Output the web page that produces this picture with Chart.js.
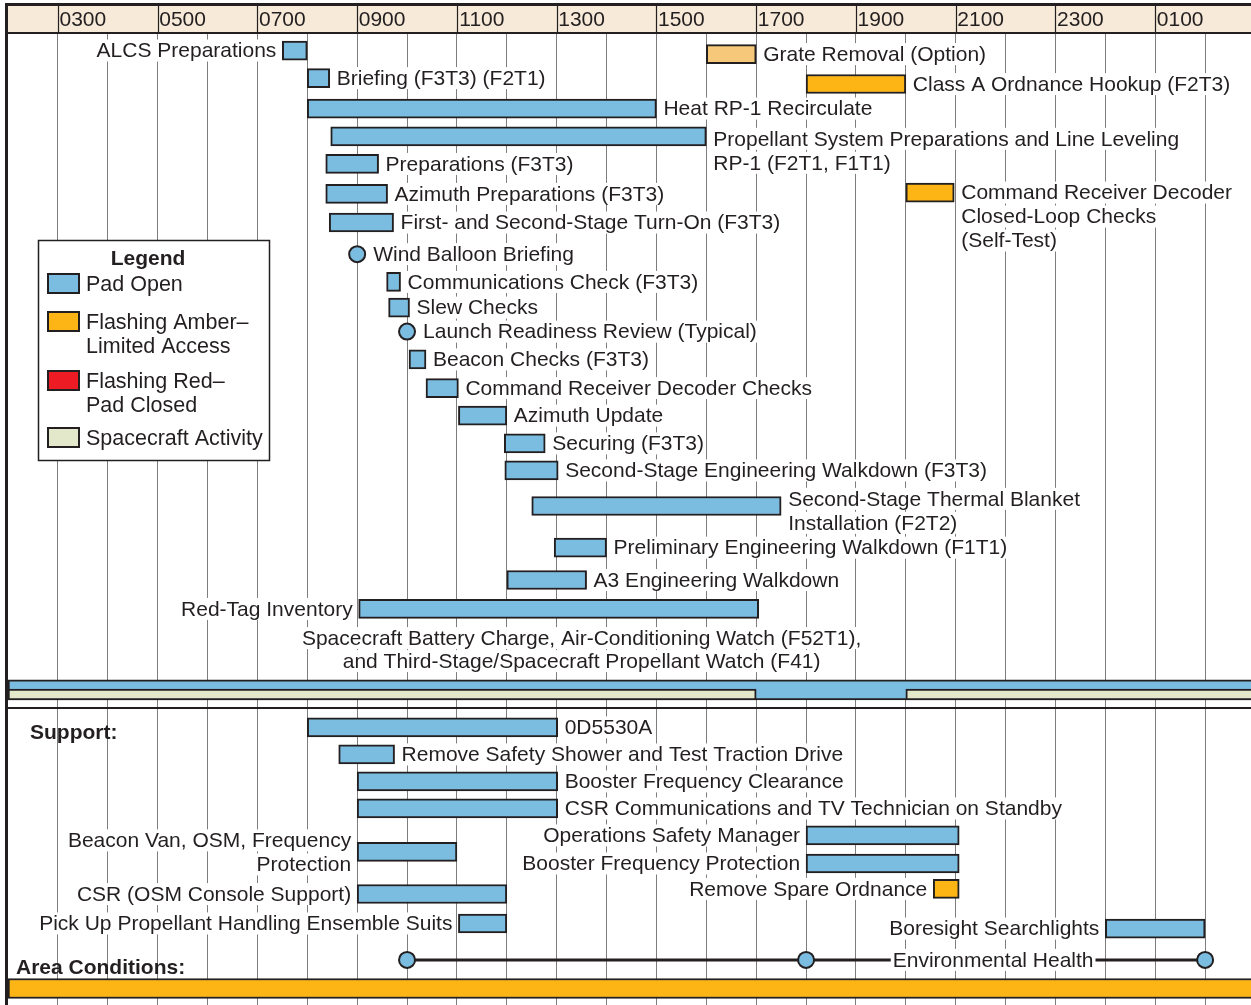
<!DOCTYPE html>
<html><head><meta charset="utf-8">
<script src="https://cdn.jsdelivr.net/npm/chart.js@4/dist/chart.umd.min.js"></script>
<style>html,body{margin:0;padding:0;background:#fff;overflow:hidden}canvas{display:block}</style>
</head><body>
<canvas id="c" width="1251" height="1005"></canvas>
<script>
// ---------- DATA ----------
const tickHours = [3,5,7,9,11,13,15,17,19,21,23,25];
const tickLabels = ['0300','0500','0700','0900','1100','1300','1500','1700','1900','2100','2300','0100'];
const gridHours = [3,4,5,6,7,8,9,10,11,12,13,14,15,16,17,18,19,20,21,22,23,24,25,26];

const taskNames = [
  'ALCS Preparations',
  'Briefing (F3T3) (F2T1)',
  'Heat RP-1 Recirculate',
  'Propellant System Preparations and Line Leveling\nRP-1 (F2T1, F1T1)',
  'Preparations (F3T3)',
  'Azimuth Preparations (F3T3)',
  'First- and Second-Stage Turn-On (F3T3)',
  'Communications Check (F3T3)',
  'Slew Checks',
  'Beacon Checks (F3T3)',
  'Command Receiver Decoder Checks',
  'Azimuth Update',
  'Securing (F3T3)',
  'Second-Stage Engineering Walkdown (F3T3)',
  'Second-Stage Thermal Blanket\nInstallation (F2T2)',
  'Preliminary Engineering Walkdown (F1T1)',
  'A3 Engineering Walkdown',
  'Red-Tag Inventory',
  'Grate Removal (Option)',
  'Class A Ordnance Hookup (F2T3)',
  'Command Receiver Decoder\nClosed-Loop Checks\n(Self-Test)',
  '0D5530A',
  'Remove Safety Shower and Test Traction Drive',
  'Booster Frequency Clearance',
  'CSR Communications and TV Technician on Standby',
  'Beacon Van, OSM, Frequency\nProtection',
  'Operations Safety Manager',
  'Booster Frequency Protection',
  'Remove Spare Ordnance',
  'CSR (OSM Console Support)',
  'Pick Up Propellant Handling Ensemble Suits',
  'Boresight Searchlights'
];
const taskStart = [7.5,8.0,8.0,8.47,8.37,8.37,8.44,9.59,9.63,10.04,10.38,11.03,11.95,11.96,12.5,12.95,12.0,9.03,16.0,18.0,20.0,8.0,8.63,9.0,9.0,9.0,18.0,18.0,20.55,9.0,11.03,24.0];
const taskEnd   = [8.0,8.45,15.0,16.0,9.43,9.61,9.73,9.87,10.05,10.38,11.03,12.0,12.77,13.03,17.5,14.0,13.6,17.05,17.0,20.0,20.97,13.02,9.75,13.02,13.02,11.0,21.07,21.07,21.07,12.0,12.0,26.0];
const taskRow   = [0.65,1.67,2.80,3.83,4.85,5.96,7.02,9.22,10.17,12.09,13.15,14.17,15.20,16.20,17.52,19.06,20.26,21.33,0.78,1.89,5.91,25.72,26.72,27.72,28.72,30.33,29.72,30.76,31.70,31.89,32.98,33.17];
const taskKind  = ['open','open','open','open','open','open','open','open','open','open','open','open','open','open','open','open','open','open','option','amber','amber','open','open','open','open','open','open','open','amber','open','open','open'];

const milestoneNames = ['Wind Balloon Briefing','Launch Readiness Review (Typical)'];
const milestoneHour  = [9.0, 10.0];
const milestoneRow   = [8.19, 11.06];

const envHealthHours = [10, 18, 26];
const envHealthRow = 34.33;

const padBandSpan = [2, 27];
const padBandRow = 24.33;
const spacecraftSpans = [[2, 17], [20, 27]];
const spacecraftRow = 24.5;
const areaBandSpan = [2, 27];
const areaBandRow = 35.39;

const spacecraftNote = 'Spacecraft Battery Charge, Air-Conditioning Watch (F52T1),\nand Third-Stage/Spacecraft Propellant Watch (F41)';
const spacecraftNoteHour = 13.5;
const spacecraftNoteRow = 22.41;

const legendItems = ['Pad Open','Flashing Amber–\nLimited Access','Flashing Red–\nPad Closed','Spacecraft Activity'];

// ---------- LAYOUT / STYLE ----------
const labelSide = ['L','R','R','R','R','R','R','R','R','R','R','R','R','R','R','R','R','L','R','R','R','R','R','R','R','L','L','L','L','L','L','L'];
const labelShift = {3:0.1, 14:-0.3, 25:-0.48};
const FONT = '"Liberation Sans", Arial, Helvetica, sans-serif';
const INK = '#231f20';
const C = { open:'#7bbde0', amber:'#fdb515', option:'#f6c97a', red:'#ed1c24', craft:'#e2e8c9', header:'#f7ead8', grid:'#7d7d7d' };

function taskData(kind){
  const out=[];
  taskNames.forEach((n,i)=>{ if(taskKind[i]===kind) out.push({x:[taskStart[i],taskEnd[i]], y:taskRow[i]}); });
  return out;
}
const barBase = { type:'bar', borderColor:INK, borderWidth:2, borderSkipped:false, grouped:false, barThickness:19 };

const datasets = [
  Object.assign({}, barBase, {label:'open', data:taskData('open'), backgroundColor:C.open, order:2}),
  Object.assign({}, barBase, {label:'amber', data:taskData('amber'), backgroundColor:C.amber, order:2}),
  Object.assign({}, barBase, {label:'option', data:taskData('option'), backgroundColor:C.option, order:2}),
  Object.assign({}, barBase, {label:'craft', data:spacecraftSpans.map(s=>({x:s, y:spacecraftRow})), backgroundColor:C.craft, barThickness:11, order:0}),
  Object.assign({}, barBase, {label:'pad', data:[{x:padBandSpan, y:padBandRow}], backgroundColor:C.open, barThickness:20, order:1}),
  Object.assign({}, barBase, {label:'area', data:[{x:areaBandSpan, y:areaBandRow}], backgroundColor:C.amber, barThickness:20, order:1}),
  { type:'line', label:'env', indexAxis:'x', data:envHealthHours.map(h=>({x:h,y:envHealthRow})), borderColor:INK, borderWidth:3,
    pointRadius:8, pointBackgroundColor:C.open, pointBorderColor:INK, pointBorderWidth:2, order:0 },
  { type:'line', label:'milestones', indexAxis:'x', showLine:false, data:milestoneHour.map((h,i)=>({x:h,y:milestoneRow[i]})),
    pointRadius:8, pointBackgroundColor:C.open, pointBorderColor:INK, pointBorderWidth:2, order:0 }
];

function drawText(ctx, text, x, y, align, lh, knock){
  const lines = text.split('\n');
  ctx.textAlign = align; ctx.textBaseline = 'middle';
  lines.forEach((ln,k)=>{
    const yy = y + k*lh;
    const w = ctx.measureText(ln).width;
    const left = align==='left' ? x : (align==='right' ? x-w : x-w/2);
    if (knock !== false) { ctx.fillStyle='#fff'; ctx.fillRect(left-2, yy-11, w+4, 22); }
    ctx.fillStyle = INK; ctx.fillText(ln, x, yy+1);
  });
}

const ganttPlugin = {
  id:'gantt',
  afterDatasetsDraw(chart){
    const ctx = chart.ctx, xs = chart.scales.x, ys = chart.scales.y;
    ctx.save();
    ctx.font = '21px ' + FONT;
    taskNames.forEach((n,i)=>{
      const y = ys.getPixelForValue(taskRow[i]) + (labelShift[i]||0)*24;
      if (labelSide[i]==='R') drawText(ctx, n, xs.getPixelForValue(taskEnd[i]) + 7, y, 'left', 24);
      else drawText(ctx, n, xs.getPixelForValue(taskStart[i]) - 6, y, 'right', 24);
    });
    milestoneNames.forEach((n,i)=>{
      drawText(ctx, n, xs.getPixelForValue(milestoneHour[i]) + 16, ys.getPixelForValue(milestoneRow[i]), 'left', 24);
    });
    drawText(ctx, spacecraftNote, xs.getPixelForValue(spacecraftNoteHour), ys.getPixelForValue(spacecraftNoteRow), 'center', 23);
    drawText(ctx, 'Environmental Health', xs.getPixelForValue(21.75), ys.getPixelForValue(envHealthRow), 'center', 24);
    ctx.font = 'bold 21px ' + FONT;
    drawText(ctx, 'Support:', 30, ys.getPixelForValue(25.89), 'left', 24, false);
    drawText(ctx, 'Area Conditions:', 16, ys.getPixelForValue(34.59), 'left', 24, false);
    ctx.strokeStyle = INK; ctx.lineWidth = 2;
    const dy = ys.getPixelForValue(25.0);
    ctx.beginPath(); ctx.moveTo(chart.chartArea.left, dy); ctx.lineTo(chart.chartArea.right, dy); ctx.stroke();
    // legend box
    const lx = 38.5, ly = 240.5, lw = 231, lhh = 220;
    ctx.fillStyle = '#fff'; ctx.fillRect(lx, ly, lw, lhh);
    ctx.lineWidth = 1.5; ctx.strokeStyle = INK; ctx.strokeRect(lx, ly, lw, lhh);
    ctx.font = 'bold 21px ' + FONT;
    drawText(ctx, 'Legend', 148, 258, 'center', 24, false);
    ctx.font = '21.5px ' + FONT;
    const sw = [C.open, C.amber, C.red, C.craft];
    const swY = [274, 312, 371, 428];
    legendItems.forEach((t,k)=>{
      ctx.fillStyle = sw[k]; ctx.fillRect(48, swY[k], 31, 19);
      ctx.lineWidth = 2; ctx.strokeStyle = INK; ctx.strokeRect(48, swY[k], 31, 19);
      drawText(ctx, t, 86, swY[k] + 10, 'left', 24, false);
    });
    ctx.restore();
  },
  afterDraw(chart){
    const ctx = chart.ctx, xs = chart.scales.x, ca = chart.chartArea;
    ctx.save();
    ctx.fillStyle = C.header; ctx.fillRect(5, 5, chart.width, ca.top - 5);
    ctx.strokeStyle = INK; ctx.lineWidth = 1.2;
    tickHours.forEach(h=>{ const x = Math.round(xs.getPixelForValue(h)) + 0.5; ctx.beginPath(); ctx.moveTo(x, 6); ctx.lineTo(x, ca.top); ctx.stroke(); });
    ctx.font = '21px ' + FONT; ctx.fillStyle = INK; ctx.textAlign = 'center'; ctx.textBaseline = 'middle';
    tickLabels.forEach((t,i)=>{ ctx.fillText(t, xs.getPixelForValue(tickHours[i] + 0.5), 20); });
    ctx.fillStyle = INK;
    ctx.fillRect(5, 3, chart.width, 3);
    ctx.fillRect(5, ca.top - 1, chart.width, 2);
    ctx.fillRect(5, 3, 3, chart.height);
    ctx.restore();
  }
};

new Chart(document.getElementById('c'), {
  type:'bar',
  data:{ datasets },
  options:{
    indexAxis:'y',
    responsive:false, animation:false, devicePixelRatio:1,
    layout:{ autoPadding:false, padding:{ left:8, top:33, right:0, bottom:0 } },
    plugins:{ legend:{display:false}, tooltip:{enabled:false} },
    scales:{
      x:{ type:'linear', position:'top', min:2, max:26.92, offset:false,
          afterBuildTicks:s=>{ s.ticks = gridHours.map(v=>({value:v})); },
          ticks:{display:false}, border:{display:false},
          grid:{ color:C.grid, lineWidth:1, drawTicks:false, offset:false } },
      y:{ type:'linear', min:0, max:36, reverse:true, display:false, offset:false, grid:{offset:false} }
    }
  },
  plugins:[ganttPlugin]
});
</script>
</body></html>
